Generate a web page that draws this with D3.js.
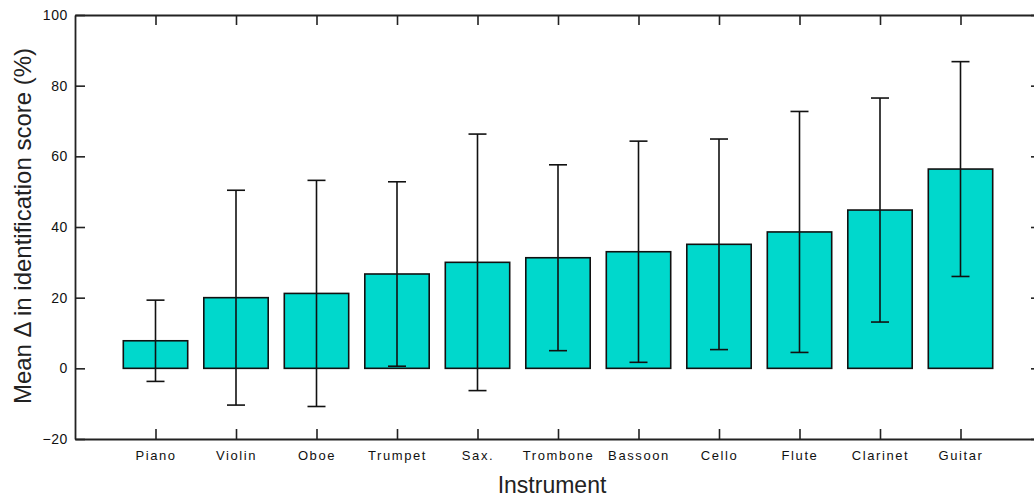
<!DOCTYPE html>
<html>
<head>
<meta charset="utf-8">
<script src="https://cdn.jsdelivr.net/npm/d3@7"></script>
<style>
  html, body { margin: 0; padding: 0; background: #ffffff; }
  svg { display: block; }
  .tick text { font-family: "Liberation Sans", Arial, sans-serif; fill: #111; }
</style>
</head>
<body>
<svg id="chart" width="1034" height="497"></svg>
<script>
// Instruments, ordered by mean change in identification score
const instruments = ["Piano", "Violin", "Oboe", "Trumpet", "Sax.", "Trombone",
                     "Bassoon", "Cello", "Flute", "Clarinet", "Guitar"];
// Mean change (%) per instrument
const meanDelta = [7.8, 20.0, 21.2, 26.7, 30.0, 31.3, 33.0, 35.1, 38.6, 44.8, 56.4];
// Error bar half-length (%) per instrument
const errDelta  = [11.5, 30.4, 32.0, 26.1, 36.3, 26.3, 31.3, 29.8, 34.1, 31.7, 30.4];
// Y axis tick values
const yTicks = [-20, 0, 20, 40, 60, 80, 100];

const svg = d3.select("#chart");
const plotLeft = 75, plotRight = 1041, plotTop = 15, plotBottom = 439;

// Categories sit at positions 1..n on a 0..n+1 axis
const x = d3.scaleLinear().domain([0, instruments.length + 1]).range([plotLeft, plotRight]);
const y = d3.scaleLinear().domain([-20, 100]).range([plotBottom, plotTop]);
const slot = x(1) - x(0);
const barW = slot * 0.8;
const capW = 18;
const positions = instruments.map((_, i) => i + 1);

// Bars
svg.append("g").selectAll("rect")
  .data(meanDelta)
  .join("rect")
  .attr("x", (d, i) => x(i + 1) - barW / 2)
  .attr("y", d => y(Math.max(d, 0)))
  .attr("width", barW)
  .attr("height", d => Math.abs(y(d) - y(0)))
  .attr("fill", "#00d8cc")
  .attr("stroke", "#111")
  .attr("stroke-width", 1.6);

// Error bars
const eb = svg.append("g").attr("stroke", "#111").attr("stroke-width", 1.6);
meanDelta.forEach((m, i) => {
  const cx = x(i + 1);
  const hi = y(m + errDelta[i]), lo = y(m - errDelta[i]);
  eb.append("line").attr("x1", cx).attr("x2", cx).attr("y1", hi).attr("y2", lo);
  eb.append("line").attr("x1", cx - capW / 2).attr("x2", cx + capW / 2).attr("y1", hi).attr("y2", hi);
  eb.append("line").attr("x1", cx - capW / 2).attr("x2", cx + capW / 2).attr("y1", lo).attr("y2", lo);
});

// Axes with inward ticks on all four sides
const tickLen = 10;
const yLeft = svg.append("g").attr("transform", `translate(${plotLeft},0)`)
  .call(d3.axisLeft(y).tickValues(yTicks).tickSizeInner(-tickLen).tickSizeOuter(0).tickPadding(7));
const yRight = svg.append("g").attr("transform", `translate(${plotRight},0)`)
  .call(d3.axisRight(y).tickValues(yTicks).tickSizeInner(-tickLen).tickSizeOuter(0).tickFormat(""));
const xBottom = svg.append("g").attr("transform", `translate(0,${plotBottom})`)
  .call(d3.axisBottom(x).tickValues(positions).tickSizeInner(-tickLen).tickSizeOuter(0).tickPadding(12)
    .tickFormat(d => instruments[d - 1]));
const xTop = svg.append("g").attr("transform", `translate(0,${plotTop})`)
  .call(d3.axisTop(x).tickValues(positions).tickSizeInner(-tickLen).tickSizeOuter(0).tickFormat(""));

[yLeft, yRight, xBottom, xTop].forEach(g => {
  g.select(".domain").attr("stroke", "#222").attr("stroke-width", 1.8);
  g.selectAll(".tick line").attr("stroke", "#222").attr("stroke-width", 1.6);
});
yLeft.selectAll(".tick text").attr("font-size", 14).attr("letter-spacing", 0.6);
xBottom.selectAll(".tick text").attr("font-size", 13).attr("letter-spacing", 1.6);

// Axis titles
svg.append("text")
  .attr("x", 552).attr("y", 493)
  .attr("text-anchor", "middle")
  .attr("font-family", "Liberation Sans, Arial, sans-serif")
  .attr("font-size", 23)
  .attr("fill", "#222")
  .text("Instrument");

svg.append("text")
  .attr("transform", "translate(31,226) rotate(-90)")
  .attr("text-anchor", "middle")
  .attr("font-family", "Liberation Sans, Arial, sans-serif")
  .attr("font-size", 24)
  .attr("fill", "#222")
  .text("Mean \u0394 in identification score (%)");
</script>
</body>
</html>
